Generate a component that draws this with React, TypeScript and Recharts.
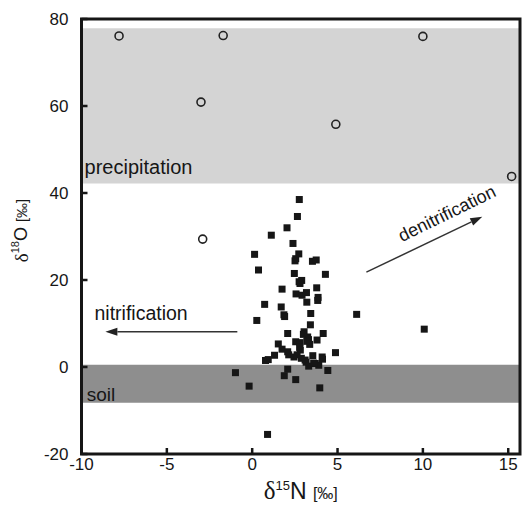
import React from 'react';
import {
  ScatterChart, Scatter, XAxis, YAxis, ReferenceArea, ReferenceLine, ReferenceDot,
} from 'recharts';

const xTicks = [-10, -5, 0, 5, 10, 15];
const yTicks = [-20, 0, 20, 40, 60, 80];
const xDomain = [-10, 15.69];
const yDomain = [-20, 80];

// precipitation samples (open circles)
const precipX = [-7.8, -1.7, 10.0, -3.0, 4.9, 15.2, -2.9];
const precipY = [76.1, 76.2, 76.0, 60.9, 55.8, 43.8, 29.4];

// nitrate samples (filled squares)
const nitrateX = [
  2.76, 2.65, 2.04, 1.12, 2.39, 0.14, 2.73, 2.51, 2.55, 3.53, 3.75, 0.37, 4.29, 2.47, 2.75,
  2.9, 2.8, 1.75, 3.78, 2.57, 2.92, 3.18, 3.86, 3.84, 3.2, 0.73, 1.7, 3.43, 1.86, 1.9,
  6.12, 0.27, 3.41, 10.08, 2.08, 3.04, 3.0, 4.16, 3.25, 3.3, 3.8, 2.55, 2.8, 3.2, 1.53,
  3.37, 2.78, 1.75, 2.08, 2.82, 4.88, 1.31, 2.14, 2.45, 2.63, 3.55, 2.88, 4.1, 0.94, 0.78,
  4.12, 3.16, 3.1, 3.7, 3.31, 3.9, 3.6, 4.43, -0.98, 2.08, 1.88, 2.55, -0.18, 3.96, 0.9,
];
const nitrateY = [
  38.5, 34.6, 32.0, 30.3, 28.4, 25.9, 26.0, 24.4, 24.9, 24.3, 24.6, 22.3, 21.3, 21.5, 19.6,
  19.9, 19.2, 17.9, 18.2, 16.8, 16.5, 17.1, 16.0, 15.3, 14.9, 14.4, 13.8, 12.3, 12.0, 11.6,
  12.1, 10.7, 9.7, 8.7, 7.7, 8.1, 7.5, 7.7, 6.9, 6.3, 6.2, 5.8, 5.6, 5.9, 5.3,
  5.2, 4.5, 4.1, 3.5, 3.9, 3.3, 2.7, 2.8, 2.3, 2.8, 2.6, 2.0, 2.3, 1.7, 1.5,
  1.8, 1.1, 1.6, 0.8, 0.2, 0.4, 0.9, -0.8, -1.3, -0.5, -2.0, -2.9, -4.4, -4.8, -15.5,
];

const precipBand = [42.2, 77.9];
const soilBand = [-8.2, 0.5];

const nitrifArrow = [{ x: -0.87, y: 8.1 }, { x: -8.6, y: 8.1 }];
const denitrifArrow = [{ x: 6.69, y: 21.8 }, { x: 13.48, y: 34.55 }];

const precipData = precipX.map((x, i) => ({ x, y: precipY[i] }));
const nitrateData = nitrateX.map((x, i) => ({ x, y: nitrateY[i] }));

const SANS = 'Liberation Sans, Arial, sans-serif';
const SERIF = 'Liberation Serif, Times New Roman, serif';
const INK = '#161616';

const BottomTick = (p: any) => (
  <g>
    <line x1={p.x} x2={p.x} y1={p.y} y2={p.y - 6} stroke={INK} strokeWidth={2.5} />
    <text x={p.x} y={p.y + 16} textAnchor="middle" fontFamily={SANS} fontSize={17} fill={INK}>
      {p.payload.value}
    </text>
  </g>
);
const TopTick = (p: any) => (
  <line x1={p.x} x2={p.x} y1={p.y} y2={p.y + 6} stroke={INK} strokeWidth={2.5} />
);
const LeftTick = (p: any) => (
  <g>
    <line x1={p.x} x2={p.x + 6} y1={p.y} y2={p.y} stroke={INK} strokeWidth={2.5} />
    <text x={p.x - 13} y={p.y} textAnchor="end" dominantBaseline="central" fontFamily={SANS} fontSize={17} fill={INK}>
      {p.payload.value}
    </text>
  </g>
);
const RightTick = (p: any) => (
  <line x1={p.x - 6} x2={p.x} y1={p.y} y2={p.y} stroke={INK} strokeWidth={2.5} />
);

const Square = (p: any) => (
  <rect x={p.cx - 3.5} y={p.cy - 3.5} width={7} height={7} fill={INK} />
);
const Ring = (p: any) => (
  <circle cx={p.cx} cy={p.cy} r={4} fill="none" stroke="#222" strokeWidth={1.6} />
);

const Arrow = (p: any) => {
  const { x1, y1, x2, y2 } = p;
  const ang = Math.atan2(y2 - y1, x2 - x1);
  const L = 12, W = 4;
  const bx = x2 - L * Math.cos(ang), by = y2 - L * Math.sin(ang);
  const nx = -Math.sin(ang) * W, ny = Math.cos(ang) * W;
  return (
    <g>
      <line x1={x1} y1={y1} x2={bx} y2={by} stroke="#333" strokeWidth={1.5} />
      <polygon points={`${x2},${y2} ${bx + nx},${by + ny} ${bx - nx},${by - ny}`} fill="#222" />
    </g>
  );
};

const label = (text: string, size: number, rotate = 0) => (p: any) => (
  <text
    x={p.cx}
    y={p.cy}
    fontFamily={SANS}
    fontSize={size}
    fill={INK}
    textAnchor="start"
    transform={rotate ? `rotate(${rotate}, ${p.cx}, ${p.cy})` : undefined}
  >
    {text}
  </text>
);

const YTitle = (p: any) => {
  const vb = p.viewBox || { x: 0, y: 19, width: 82, height: 435 };
  const cx = 21;
  const cy = vb.y + vb.height / 2 - 6;
  return (
    <text x={cx} y={cy} transform={`rotate(-90, ${cx}, ${cy})`} textAnchor="middle" dominantBaseline="central" fill={INK}>
      <tspan fontFamily={SERIF} fontSize={19}>δ</tspan>
      <tspan fontFamily={SANS} fontSize={11} dy={-6}>18</tspan>
      <tspan fontFamily={SANS} fontSize={18} dy={6}>O </tspan>
      <tspan fontFamily={SANS} fontSize={15}>[‰]</tspan>
    </text>
  );
};

const XTitle = (p: any) => {
  const vb = p.viewBox || { x: 81.5, y: 454, width: 438, height: 53 };
  const cx = vb.x + vb.width / 2;
  const cy = 499;
  return (
    <text x={cx} y={cy} textAnchor="middle" fill={INK}>
      <tspan fontFamily={SERIF} fontSize={25}>δ</tspan>
      <tspan fontFamily={SANS} fontSize={13} dy={-9}>15</tspan>
      <tspan fontFamily={SANS} fontSize={23} dy={9}>N </tspan>
      <tspan fontFamily={SANS} fontSize={16}>[‰]</tspan>
    </text>
  );
};

export default function App() {
  return (
    <div style={{ position: 'absolute', left: 0, top: 0, width: 522, height: 507, background: '#fff' }}>
      <ScatterChart width={522} height={507} margin={{ top: 19, right: 2, bottom: 0, left: 0 }}>
        <XAxis
          type="number" dataKey="x" domain={xDomain} ticks={xTicks} allowDataOverflow
          height={53} axisLine={false} tickLine={false} tickSize={0} tickMargin={0}
          tick={BottomTick} interval={0} label={{ content: XTitle }}
        />
        <XAxis
          xAxisId="top" orientation="top" type="number" dataKey="x" domain={xDomain} ticks={xTicks}
          allowDataOverflow height={0} axisLine={false} tickLine={false} tickSize={0} tickMargin={0}
          tick={TopTick} interval={0}
        />
        <YAxis
          type="number" dataKey="y" domain={yDomain} ticks={yTicks} allowDataOverflow
          width={81.5} axisLine={false} tickLine={false} tickSize={0} tickMargin={0}
          tick={LeftTick} interval={0} label={{ content: YTitle }}
        />
        <YAxis
          yAxisId="right" orientation="right" type="number" dataKey="y" domain={yDomain} ticks={yTicks}
          allowDataOverflow width={0} axisLine={false} tickLine={false} tickSize={0} tickMargin={0}
          tick={RightTick} interval={0}
        />
        <ReferenceArea x1={xDomain[0]} x2={xDomain[1]} y1={precipBand[0]} y2={precipBand[1]} fill="#d4d4d4" fillOpacity={1} stroke="none" />
        <ReferenceArea x1={xDomain[0]} x2={xDomain[1]} y1={soilBand[0]} y2={soilBand[1]} fill="#8e8e8e" fillOpacity={1} stroke="none" />
        <ReferenceDot x={-9.82} y={44.4} r={0} shape={label('precipitation', 20)} />
        <ReferenceDot x={-9.24} y={10.8} r={0} shape={label('nitrification', 19.5)} />
        <ReferenceDot x={-9.69} y={-7.8} r={0} shape={label('soil', 19)} />
        <ReferenceDot x={8.78} y={28.7} r={0} shape={label('denitrification', 18, -26)} />
        <ReferenceLine segment={nitrifArrow} shape={Arrow} ifOverflow="visible" />
        <ReferenceLine segment={denitrifArrow} shape={Arrow} ifOverflow="visible" />
        <Scatter data={nitrateData} shape={Square} isAnimationActive={false} />
        <Scatter data={precipData} shape={Ring} isAnimationActive={false} />
        <ReferenceArea x1={xDomain[0]} x2={xDomain[1]} y1={yDomain[0]} y2={yDomain[1]} fill="none" stroke={INK} strokeWidth={3} ifOverflow="visible" />
      </ScatterChart>
    </div>
  );
}
